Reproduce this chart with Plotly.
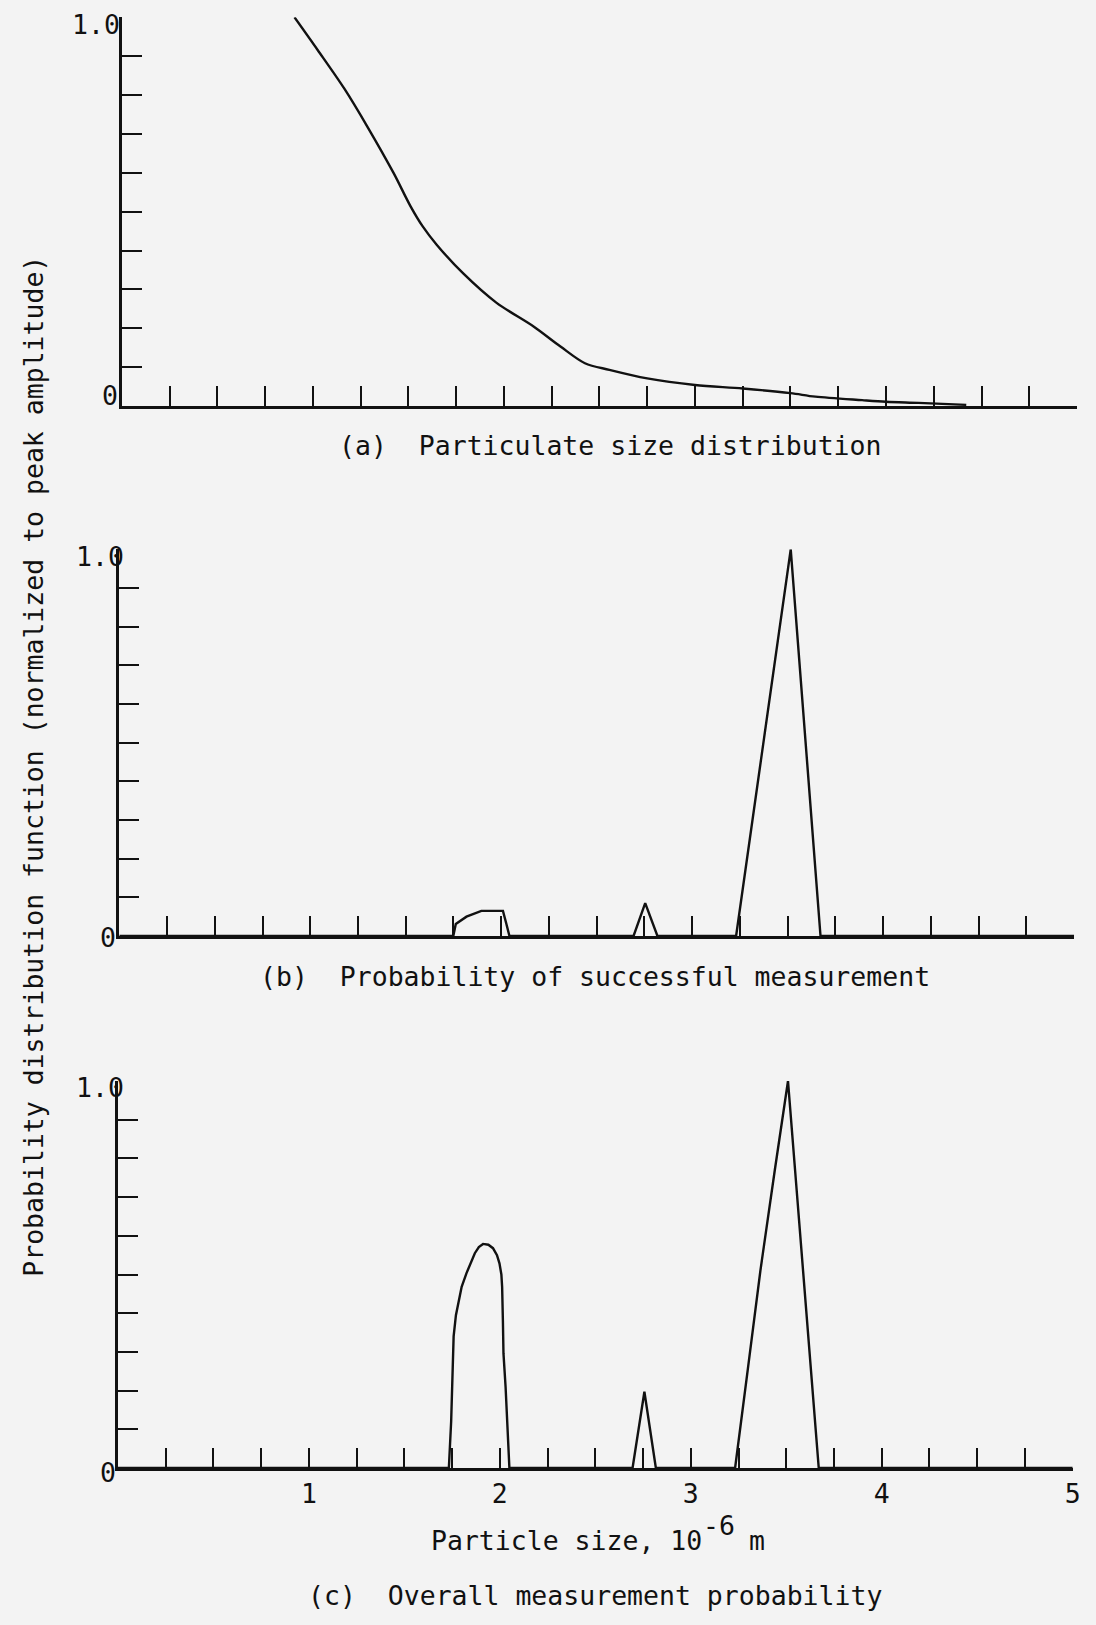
import plotly.graph_objects as go

# ---- data -------------------------------------------------------------
# (a) particulate size distribution (normalized to peak)
size_a = [0.904, 1.025, 1.164, 1.285, 1.423, 1.51, 1.575, 1.648, 1.787, 1.96, 2.157,
          2.296, 2.424, 2.552, 2.75, 3.0, 3.25, 3.5, 3.63, 3.875, 4.0, 4.17, 4.42]
dist_a = [1.0, 0.916, 0.817, 0.719, 0.599, 0.515, 0.462, 0.415, 0.341, 0.266, 0.204,
          0.153, 0.110, 0.093, 0.071, 0.054, 0.045, 0.033, 0.024, 0.015, 0.011, 0.008, 0.003]

# (b) probability of successful measurement
size_b = [0.0, 1.749, 1.762, 1.818, 1.896, 2.009, 2.026, 2.043,
          2.693, 2.754, 2.818, 3.230, 3.516, 3.672, 5.0]
prob_b = [0.0, 0.0, 0.031, 0.050, 0.065, 0.065, 0.033, 0.0,
          0.0, 0.085, 0.0, 0.0, 1.0, 0.0, 0.0]

# (c) overall measurement probability
size_c = [0.0, 1.733, 1.745, 1.752, 1.758, 1.770, 1.782, 1.800, 1.825, 1.848, 1.869,
          1.890, 1.912, 1.940, 1.964, 1.985, 1.998, 2.008, 2.012, 2.016, 2.019, 2.030,
          2.042, 2.050, 2.695, 2.757, 2.817, 3.232, 3.298, 3.365, 3.440, 3.509,
          3.546, 3.588, 3.630, 3.670, 5.0]
prob_c = [0.0, 0.0, 0.12, 0.25, 0.34, 0.395, 0.426, 0.468, 0.503, 0.532, 0.555,
          0.571, 0.579, 0.577, 0.568, 0.550, 0.529, 0.50, 0.468, 0.38, 0.296, 0.21,
          0.081, 0.0, 0.0, 0.197, 0.0, 0.0, 0.253, 0.512, 0.77, 1.0,
          0.77, 0.512, 0.253, 0.0, 0.0]

x_tick_labels = ["1", "2", "3", "4", "5"]
y_tick_labels = ["0", "1.0"]

captions = ["(a)\u00a0\u00a0Particulate size distribution",
            "(b)\u00a0\u00a0Probability of successful measurement",
            "(c)\u00a0\u00a0Overall measurement probability"]
y_title = "Probability distribution function (normalized to peak amplitude)"

# ---- styling ----------------------------------------------------------
W, H = 1096, 1625
INK = "#111111"
PAPER = "#f3f3f3"
FONT = "DejaVu Sans Mono"
FS = 26.5


def px(x):
    return x / W


def py(y):
    return 1 - y / H


# panel geometry in pixels: (left, right, bottom, top)
panels = [
    (122.7, 1085.0, 406.0, 17.3),
    (120.2, 1082.0, 936.0, 549.3),
    (118.8, 1080.6, 1468.0, 1081.0),
]

x_ticks = [i * 0.25 for i in range(1, 21)]
x_text = []
for v in x_ticks:
    if abs(v - round(v)) < 1e-9:
        x_text.append(x_tick_labels[int(round(v)) - 1])
    else:
        x_text.append("")
y_ticks = [i / 10 for i in range(1, 11)]

fig = go.Figure()
series = [(size_a, dist_a, "spline"), (size_b, prob_b, "linear"), (size_c, prob_c, "linear")]
for i, (xs, ys, shape) in enumerate(series):
    suffix = "" if i == 0 else str(i + 1)
    fig.add_trace(go.Scatter(
        x=xs, y=ys, mode="lines",
        line=dict(color=INK, width=2.4, shape=shape, smoothing=0.9 if shape == "spline" else None),
        xaxis="x" + suffix, yaxis="y" + suffix, showlegend=False, hoverinfo="skip",
    ))

layout = dict(
    width=W, height=H,
    margin=dict(l=0, r=0, t=0, b=0),
    paper_bgcolor=PAPER, plot_bgcolor=PAPER,
    showlegend=False,
)
for i, (l, r, b, t) in enumerate(panels):
    suffix = "" if i == 0 else str(i + 1)
    last = i == len(panels) - 1
    layout["xaxis" + suffix] = dict(
        domain=[px(l), px(r)], range=[0, 5], anchor="y" + suffix,
        showline=True, linecolor=INK, linewidth=2.6, mirror=False,
        ticks="inside", ticklen=20, tickwidth=2, tickcolor=INK,
        tickmode="array", tickvals=x_ticks, ticktext=x_text,
        showticklabels=last, tickfont=dict(family=FONT, size=FS, color=INK),
        showgrid=False, zeroline=False, fixedrange=True,
    )
    layout["yaxis" + suffix] = dict(
        domain=[py(b), py(t)], range=[0, 1], anchor="x" + suffix,
        showline=True, linecolor=INK, linewidth=2.6,
        ticks="inside", ticklen=20, tickwidth=2, tickcolor=INK,
        tickmode="array", tickvals=y_ticks, showticklabels=False,
        showgrid=False, zeroline=False, fixedrange=True,
    )
fig.update_layout(**layout)


def text(s, x, y, xanchor="center", yanchor="middle", angle=0, size=FS):
    fig.add_annotation(
        text=s, x=px(x), y=py(y), xref="paper", yref="paper",
        xanchor=xanchor, yanchor=yanchor, textangle=angle, showarrow=False,
        font=dict(family=FONT, size=size, color=INK),
    )


# y tick labels (0 and 1.0) for each panel
label_pos = [((123, 25), (121, 396)), ((127, 556), (119, 937)), ((127, 1087), (119, 1472))]
for (top, bot) in label_pos:
    text(y_tick_labels[1], top[0], top[1], xanchor="right")
    text(y_tick_labels[0], bot[0], bot[1], xanchor="right")

# panel captions
text(captions[0], 614, 445)
text(captions[1], 599, 976)
text(captions[2], 599, 1595)

# x axis title with raised exponent
text("Particle size, 10", 709, 1540, xanchor="right")
text("-6", 706, 1525, xanchor="left")
text("m", 752, 1540, xanchor="left")

# shared y axis title
text(y_title, 33, 766, angle=-90)

fig.write_html("out.html")
